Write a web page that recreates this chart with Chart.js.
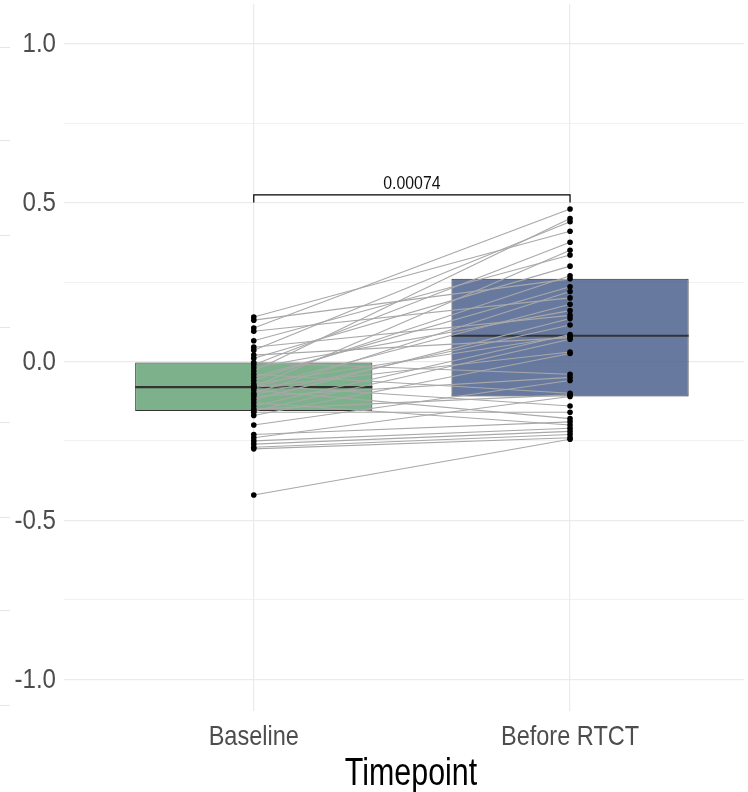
<!DOCTYPE html>
<html>
<head>
<meta charset="utf-8">
<script src="https://cdn.jsdelivr.net/npm/chart.js@4.4.0/dist/chart.umd.min.js"></script>
<style>
  html, body { margin: 0; padding: 0; background: #fff; }
  #wrap { width: 748px; height: 792px; }
</style>
</head>
<body>
<div id="wrap"><canvas id="pairedChart"></canvas></div>
<script>
// timepoints on the x axis
const timepoints = ["Baseline", "Before RTCT"];

// one value per subject, same subject order in both arrays
const baseline = [
  0.14, 0.13, 0.105, 0.095, 0.065, 0.045, 0.035, 0.02, 0.01, -0.003,
  -0.01, -0.02, -0.03, -0.04, -0.05, -0.06, -0.07, -0.075, -0.08, -0.081,
  -0.082, -0.09, -0.1, -0.105, -0.11, -0.12, -0.13, -0.14, -0.15, -0.156,
  -0.16, -0.17, -0.2, -0.23, -0.24, -0.25, -0.26, -0.27, -0.275, -0.42,
];
const beforeRTCT = [
  0.41, 0.26, 0.48, 0.2, 0.335, 0.145, 0.44, 0.075, 0.3, -0.04,
  0.375, 0.16, 0.45, -0.1, 0.235, 0.27, 0.08, -0.14, 0.35, 0.18,
  0.03, -0.18, 0.22, 0.115, -0.05, 0.135, -0.2, 0.085, -0.105, 0.07,
  -0.16, 0.025, -0.06, -0.19, -0.11, -0.21, -0.22, -0.23, -0.24, -0.245,
];

// box hinges and medians per timepoint
const boxLower = [-0.156, -0.11];
const boxMedian = [-0.081, 0.081];
const boxUpper = [-0.003, 0.26];

const yTicks = [-1, -0.75, -0.5, -0.25, 0, 0.25, 0.5, 0.75, 1];
const pValue = "0.00074";

const family = "'Liberation Sans', Arial, sans-serif";
const isMajor = (v) => Math.abs(v * 2 - Math.round(v * 2)) < 1e-9;

// text in the reference is squeezed sideways, so draw it with a horizontal scale
function squeezedText(ctx, text, x, y, size, sx, color, align, baseline) {
  ctx.save();
  ctx.translate(x, y);
  ctx.scale(sx, 1);
  ctx.font = size + "px " + family;
  ctx.fillStyle = color;
  ctx.textAlign = align;
  ctx.textBaseline = baseline;
  ctx.fillText(text, 0, 0);
  ctx.restore();
}

const datasets = [];
// boxes
datasets.push({
  type: "bar",
  data: timepoints.map((t, i) => ({ x: i + 1, y: [boxLower[i], boxUpper[i]] })),
  backgroundColor: ["rgba(102,163,119,0.85)", "rgba(78,98,142,0.85)"],
  borderColor: "#333333",
  borderWidth: 1,
  borderSkipped: false,
  barPercentage: 0.75,
  categoryPercentage: 1,
  order: 10,
});
// paired lines
baseline.forEach((b, i) => {
  datasets.push({
    type: "line",
    data: [{ x: 1, y: b }, { x: 2, y: beforeRTCT[i] }],
    borderColor: "#a8a8a8",
    borderWidth: 1.1,
    pointRadius: 0,
    order: 5,
  });
});
// points
[baseline, beforeRTCT].forEach((vals, i) => {
  datasets.push({
    type: "line",
    showLine: false,
    data: vals.map((v) => ({ x: i + 1, y: v })),
    pointRadius: 2.8,
    pointBackgroundColor: "#000",
    pointBorderWidth: 0,
    order: 0,
  });
});

const medianPlugin = {
  id: "medians",
  afterDatasetDraw(chart, args) {
    if (args.index !== 0) return;
    const ctx = chart.ctx;
    const ys = chart.scales.y;
    args.meta.data.forEach((bar, i) => {
      const py = ys.getPixelForValue(boxMedian[i]);
      ctx.save();
      ctx.strokeStyle = "#333333";
      ctx.lineWidth = 2.2;
      ctx.beginPath();
      ctx.moveTo(bar.x - bar.width / 2, py);
      ctx.lineTo(bar.x + bar.width / 2, py);
      ctx.stroke();
      ctx.restore();
    });
  },
};

// significance bracket between the two timepoints
const bracketPlugin = {
  id: "bracket",
  afterDatasetsDraw(chart) {
    const ctx = chart.ctx;
    const xs = chart.scales.x, ys = chart.scales.y;
    const x1 = xs.getPixelForValue(1), x2 = xs.getPixelForValue(2);
    const yTop = ys.getPixelForValue(0.524), yBot = ys.getPixelForValue(0.5);
    ctx.save();
    ctx.strokeStyle = "#000";
    ctx.lineWidth = 1.2;
    ctx.beginPath();
    ctx.moveTo(x1, yBot);
    ctx.lineTo(x1, yTop);
    ctx.lineTo(x2, yTop);
    ctx.lineTo(x2, yBot);
    ctx.stroke();
    ctx.restore();
    squeezedText(ctx, pValue, (x1 + x2) / 2, yTop - 6, 18, 0.88, "#111", "center", "alphabetic");
  },
};

// axis labels and title
const labelPlugin = {
  id: "labels",
  afterDraw(chart) {
    const ctx = chart.ctx;
    const xs = chart.scales.x, ys = chart.scales.y;
    yTicks.filter(isMajor).forEach((v) => {
      squeezedText(ctx, v.toFixed(1), ys.right - 8, ys.getPixelForValue(v) + 1, 28, 0.86, "#4d4d4d", "right", "middle");
    });
    timepoints.forEach((t, i) => {
      squeezedText(ctx, t, xs.getPixelForValue(i + 1), xs.top + 34, 28, 0.84, "#4d4d4d", "center", "alphabetic");
    });
    squeezedText(ctx, "Timepoint", (xs.left + xs.right) / 2 + 7, xs.top + 74, 38, 0.8, "#000", "center", "alphabetic");
  },
};

// faint gridline stubs of the neighbouring panel at the left edge
const edgePlugin = {
  id: "edge",
  beforeDraw(chart) {
    const ctx = chart.ctx;
    ctx.save();
    ctx.strokeStyle = "#e6e6e6";
    ctx.lineWidth = 1;
    [47, 140, 235, 327, 422, 517, 610, 705].forEach((y) => {
      ctx.beginPath();
      ctx.moveTo(0, y + 0.5);
      ctx.lineTo(10, y + 0.5);
      ctx.stroke();
    });
    ctx.restore();
  },
};

new Chart(document.getElementById("pairedChart"), {
  type: "bar",
  data: { datasets: datasets },
  options: {
    responsive: true,
    maintainAspectRatio: false,
    animation: false,
    layout: { padding: 0 },
    plugins: {
      legend: { display: false },
      tooltip: { enabled: false },
    },
    scales: {
      x: {
        type: "linear",
        min: 0.4,
        max: 2.55,
        offset: false,
        afterBuildTicks: (axis) => {
          axis.ticks = timepoints.map((t, i) => ({ value: i + 1 }));
        },
        afterFit: (axis) => {
          axis.height = 81;
          axis.paddingLeft = 0;
          axis.paddingRight = 0;
        },
        grid: { offset: false, color: "#ebebeb", lineWidth: 1.2, drawTicks: false },
        border: { display: false },
        ticks: { display: false },
      },
      y: {
        min: -1.1,
        max: 1.125,
        afterBuildTicks: (axis) => {
          axis.ticks = yTicks.map((v) => ({ value: v }));
        },
        afterFit: (axis) => {
          axis.width = 64;
          axis.paddingTop = 0;
          axis.paddingBottom = 0;
        },
        grid: {
          color: "#ebebeb",
          lineWidth: (c) => (isMajor(c.tick.value) ? 1.2 : 0.7),
          drawTicks: false,
        },
        border: { display: false },
        ticks: { display: false },
      },
    },
  },
  plugins: [edgePlugin, medianPlugin, bracketPlugin, labelPlugin],
});
</script>
</body>
</html>
